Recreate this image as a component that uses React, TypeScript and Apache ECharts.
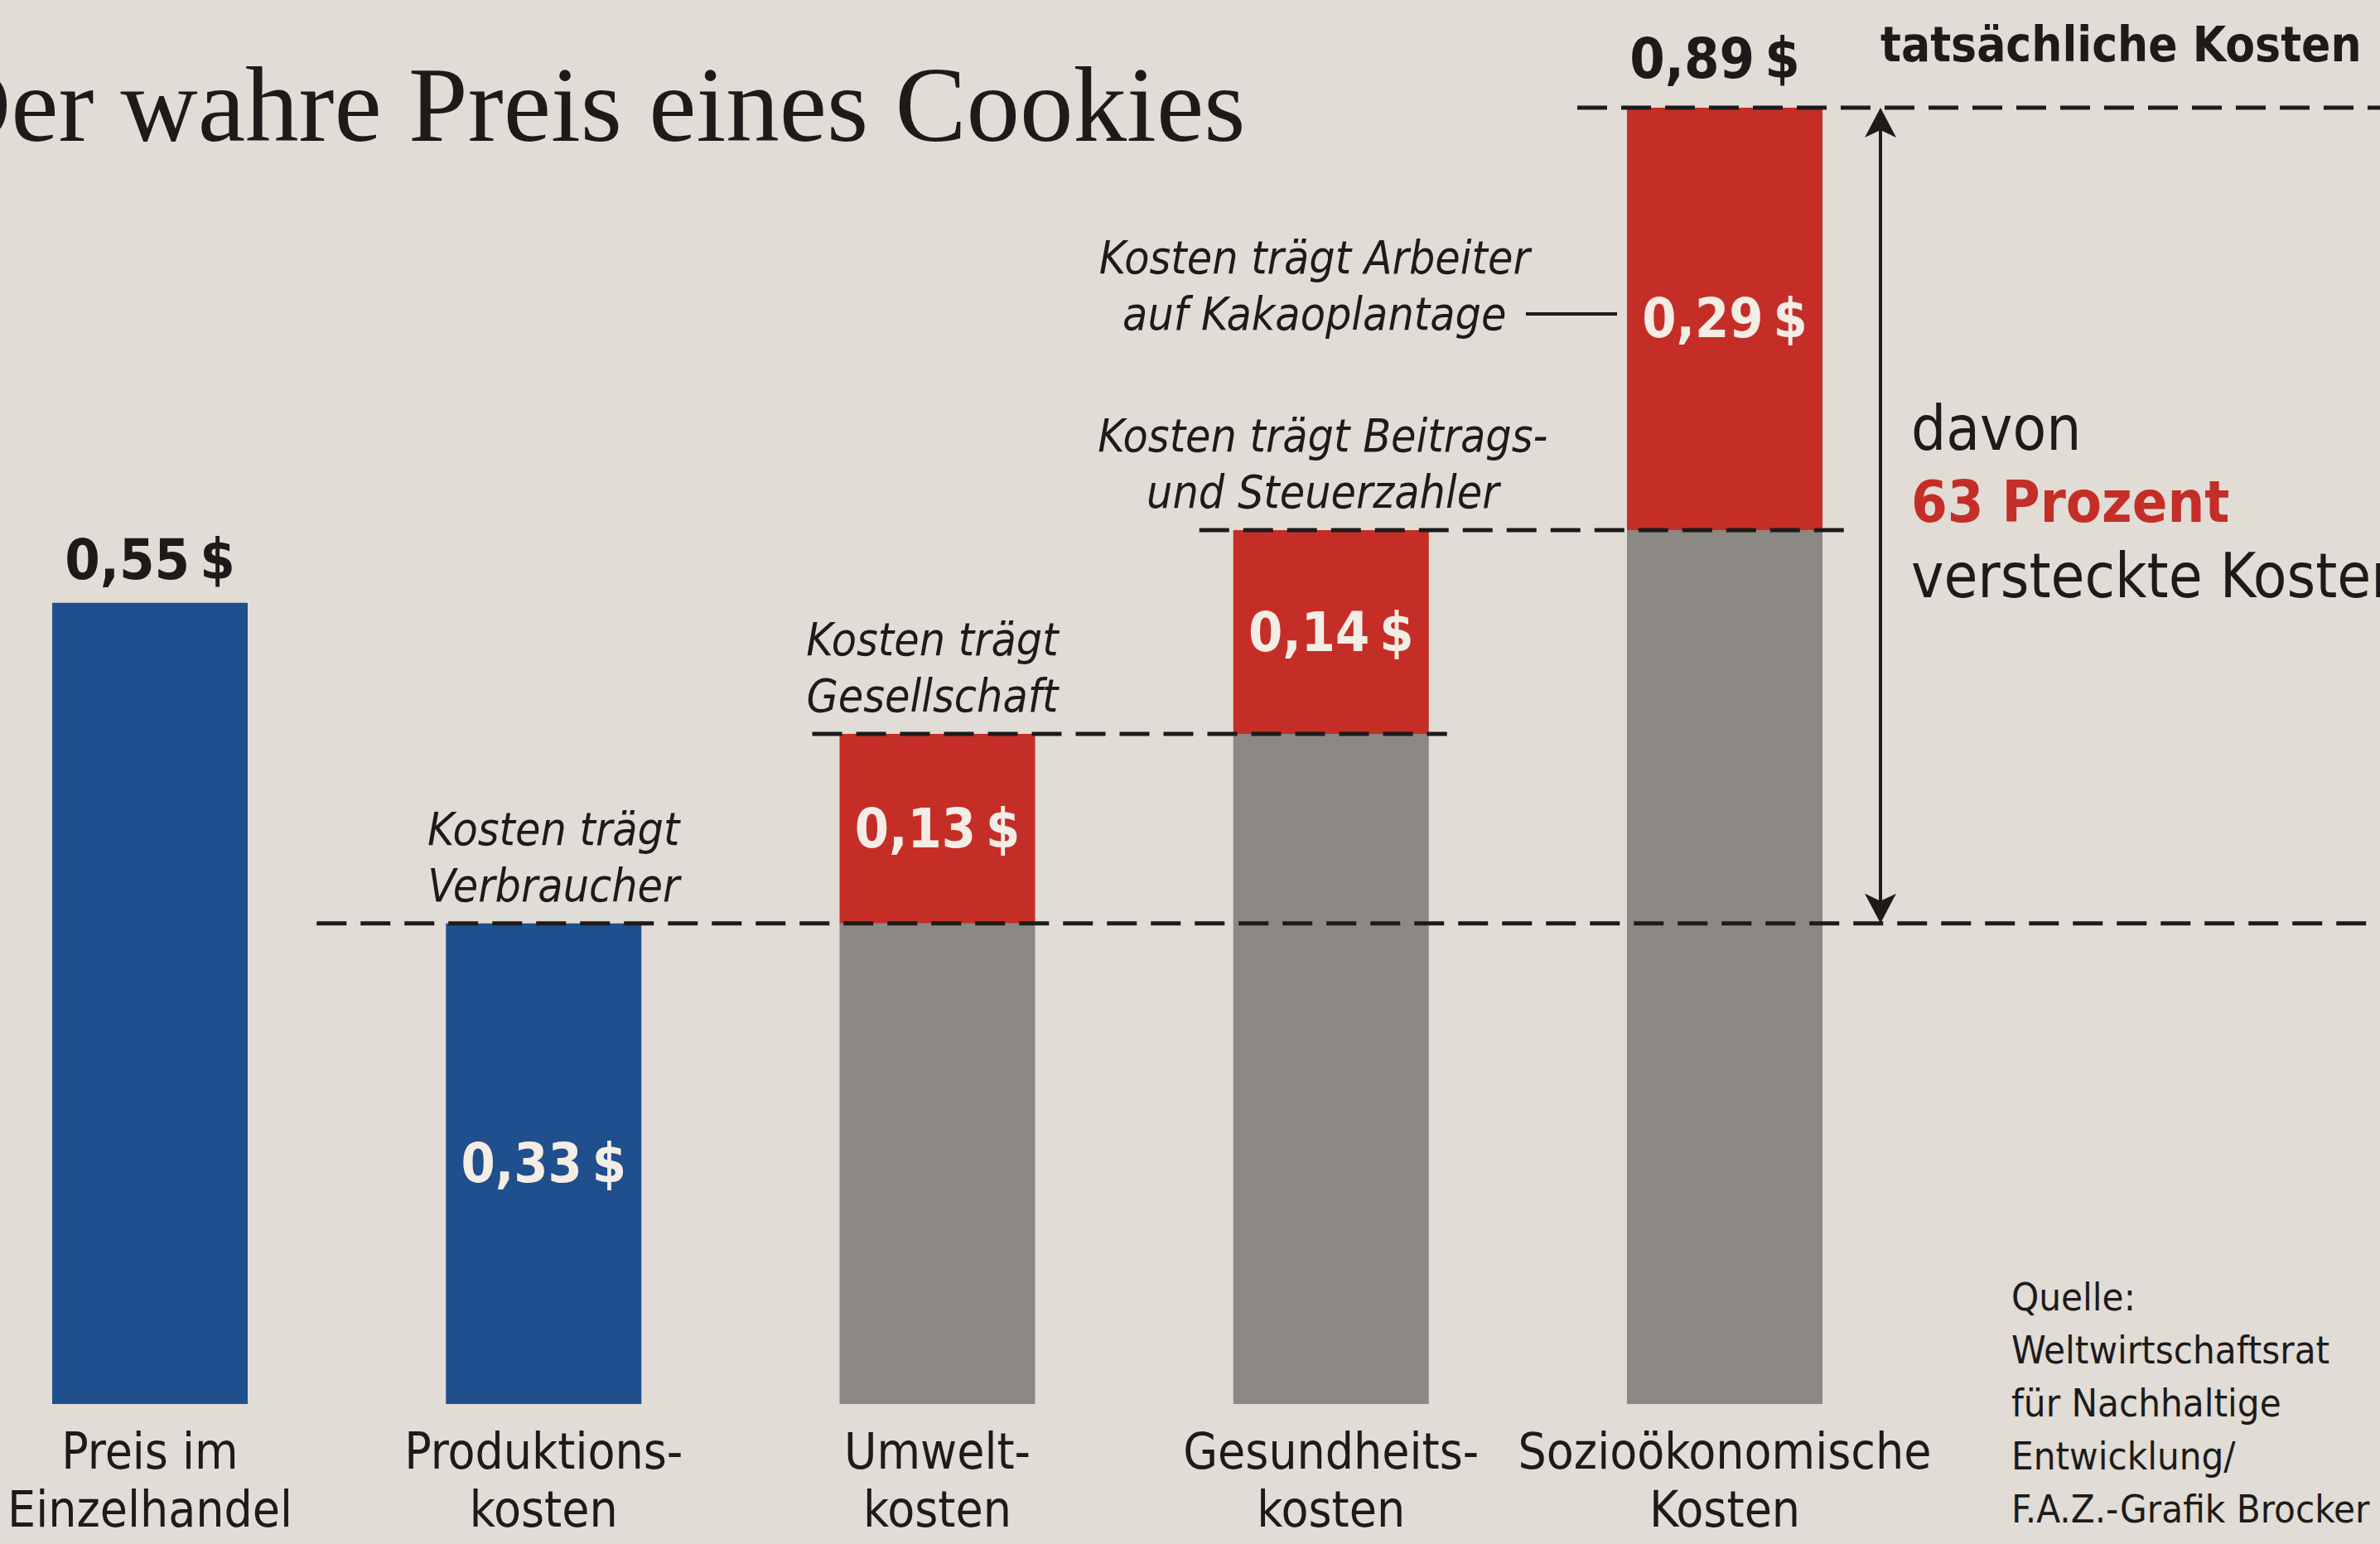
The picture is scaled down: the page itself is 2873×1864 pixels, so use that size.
import React, { useEffect, useRef } from "react";
import * as echarts from "echarts";

const title = "Der wahre Preis eines Cookies";
const categories = [
  "Preis im\nEinzelhandel",
  "Produktions-\nkosten",
  "Umwelt-\nkosten",
  "Gesundheits-\nkosten",
  "Sozioökonomische\nKosten",
];
const baseValues = [0.55, 0.33, 0.33, 0.46, 0.6];
const hiddenCosts = [0, 0, 0.13, 0.14, 0.29];
const isPaidPrice = [true, true, false, false, false];
const payerNotes = [
  "",
  "Kosten trägt\nVerbraucher",
  "Kosten trägt\nGesellschaft",
  "Kosten trägt Beitrags-\nund Steuerzahler",
  "Kosten trägt Arbeiter\nauf Kakaoplantage",
];
const totalLabel = "tatsächliche Kosten";
const shareLines = ["davon", "63 Prozent", "versteckte Kosten"];
const sourceLines = [
  "Quelle:",
  "Weltwirtschaftsrat",
  "für Nachhaltige",
  "Entwicklung/",
  "F.A.Z.-Grafik Brocker",
];

const fmt = (v: number) => v.toFixed(2).replace(".", ",") + "\u2009$";

export default function App() {
  const ref = useRef<HTMLDivElement>(null);

  useEffect(() => {
    const el = ref.current!;
    const chart = echarts.init(el, null, { renderer: "svg" });

    const SANS =
      '"Liberation Sans Narrow", "DejaVu Sans Condensed", "Open Sans", sans-serif';
    const INK = "#1d1b1a";
    const BLUE = "#1f4f8c";
    const RED = "#c52e27";
    const GRAY = "#8c8883";
    const LIGHT = "#f3ede6";
    const BAR_W = 236;

    const baseData = baseValues.map((v, i) => ({
      value: v,
      itemStyle: { color: isPaidPrice[i] ? BLUE : GRAY },
      label:
        i === 0
          ? {
              show: true,
              position: "top",
              distance: 18,
              color: INK,
              fontSize: 68,
              fontWeight: "bold",
              fontFamily: SANS,
              formatter: fmt(v),
            }
          : i === 1
          ? {
              show: true,
              position: "inside",
              color: LIGHT,
              fontSize: 66,
              fontWeight: "bold",
              fontFamily: SANS,
              formatter: fmt(v),
            }
          : { show: false },
    }));

    const hiddenData = hiddenCosts.map((v) =>
      v > 0
        ? {
            value: v,
            label: {
              show: true,
              position: "inside",
              color: LIGHT,
              fontSize: 66,
              fontWeight: "bold",
              fontFamily: SANS,
              formatter: fmt(v),
            },
          }
        : "-"
    );

    chart.setOption({
      animation: false,
      backgroundColor: "#e1dcd5",
      grid: { left: 181, right: 791, top: 130, bottom: 169 },
      xAxis: {
        type: "category",
        data: categories,
        boundaryGap: false,
        axisLine: { show: false },
        axisTick: { show: false },
        axisLabel: {
          color: INK,
          fontSize: 60,
          lineHeight: 70,
          fontFamily: SANS,
          margin: 22,
          interval: 0,
        },
      },
      yAxis: {
        type: "value",
        min: 0,
        max: 0.89,
        show: false,
        splitLine: { show: false },
      },
      series: [
        {
          name: "Preis",
          type: "bar",
          stack: "cost",
          barWidth: BAR_W,
          clip: false,
          data: baseData,
        },
        {
          name: "Versteckte Kosten",
          type: "bar",
          stack: "cost",
          barWidth: BAR_W,
          clip: false,
          itemStyle: { color: RED },
          data: hiddenData,
        },
      ],
    });

    const P = (i: number, v: number) =>
      chart.convertToPixel({ gridIndex: 0 }, [i, v]) as number[];
    const W = el.clientWidth;
    const half = BAR_W / 2;
    const tops = baseValues.map((b, i) => b + hiddenCosts[i]);
    const cx = categories.map((_, i) => P(i, 0)[0]);
    const ty = tops.map((t, i) => P(i, t)[1]);
    const dashStyle = { stroke: INK, lineWidth: 5, lineDash: [36, 17] };
    const hline = (x1: number, x2: number, y: number) => ({
      type: "line",
      silent: true,
      z: 50,
      shape: { x1, y1: y, x2, y2: y },
      style: dashStyle,
    });

    const g: any[] = [];
    // title
    g.push({
      type: "text",
      x: -80,
      y: 126,
      style: {
        text: title,
        fontSize: 129,
        fontFamily: '"Liberation Serif", "DejaVu Serif", serif',
        fill: INK,
        verticalAlign: "middle",
      },
    });

    // dashed level lines
    g.push(hline(cx[1] - half - 156, W, ty[1]));
    g.push(hline(cx[2] - half - 33, cx[3] + half + 22, ty[2]));
    g.push(hline(cx[3] - half - 41, cx[4] + half + 40, ty[3]));
    g.push(hline(cx[4] - half - 60, W, ty[4]));

    const noteStyle = {
      fontSize: 55,
      lineHeight: 68,
      fontStyle: "italic",
      fontFamily: SANS,
      fill: INK,
      align: "center",
    };
    const noteShift = [0, 12, -6, -10];
    // notes for who pays
    for (let i = 1; i <= 3; i++) {
      g.push({
        type: "text",
        x: cx[i] + noteShift[i],
        y: ty[i] - 12,
        style: { ...noteStyle, text: payerNotes[i], verticalAlign: "bottom" },
      });
    }
    const redMid = (ty[4] + P(4, baseValues[4])[1]) / 2;
    g.push({
      type: "text",
      x: cx[3] - 20,
      y: redMid - 40,
      style: { ...noteStyle, text: payerNotes[4], verticalAlign: "middle" },
    });
    g.push({
      type: "line",
      silent: true,
      shape: {
        x1: cx[4] - half - 122,
        y1: redMid - 6,
        x2: cx[4] - half - 12,
        y2: redMid - 6,
      },
      style: { stroke: INK, lineWidth: 4 },
    });

    // total label
    g.push({
      type: "text",
      x: cx[4] - 12,
      y: ty[4] - 60,
      style: {
        text: fmt(tops[4]),
        fontSize: 68,
        fontWeight: "bold",
        fontFamily: SANS,
        fill: INK,
        align: "center",
        verticalAlign: "middle",
      },
    });
    const ax = cx[4] + half + 70;
    g.push({
      type: "text",
      x: ax,
      y: ty[4] - 76,
      style: {
        text: totalLabel,
        fontSize: 58,
        fontWeight: "bold",
        fontFamily: SANS,
        fill: INK,
        align: "left",
        verticalAlign: "middle",
      },
    });

    // double arrow
    g.push({
      type: "line",
      silent: true,
      shape: { x1: ax, y1: ty[4] + 20, x2: ax, y2: ty[1] - 20 },
      style: { stroke: INK, lineWidth: 4 },
    });
    g.push({
      type: "polygon",
      silent: true,
      shape: {
        points: [
          [ax, ty[4]],
          [ax - 19, ty[4] + 36],
          [ax, ty[4] + 27],
          [ax + 19, ty[4] + 36],
        ],
      },
      style: { fill: INK },
    });
    g.push({
      type: "polygon",
      silent: true,
      shape: {
        points: [
          [ax, ty[1]],
          [ax - 19, ty[1] - 36],
          [ax, ty[1] - 27],
          [ax + 19, ty[1] - 36],
        ],
      },
      style: { fill: INK },
    });

    // share text
    const sx = ax + 37;
    const shareY = [ty[3] - 123, ty[3] - 34, ty[3] + 55];
    shareLines.forEach((t, k) => {
      g.push({
        type: "text",
        x: sx,
        y: shareY[k],
        style: {
          text: t,
          fontSize: k === 1 ? 70 : 74,
          fontWeight: k === 1 ? "bold" : "normal",
          fontFamily: SANS,
          fill: k === 1 ? RED : INK,
          align: "left",
          verticalAlign: "middle",
        },
      });
    });

    // source
    g.push({
      type: "text",
      x: 2428,
      y: 1533,
      style: {
        text: sourceLines.join("\n"),
        fontSize: 47,
        lineHeight: 64,
        fontFamily: SANS,
        fill: INK,
        align: "left",
        verticalAlign: "top",
      },
    });

    chart.setOption({ graphic: g });

    return () => chart.dispose();
  }, []);

  return (
    <div
      ref={ref}
      style={{
        position: "fixed",
        left: 0,
        top: 0,
        width: 2873,
        height: 1864,
      }}
    />
  );
}
